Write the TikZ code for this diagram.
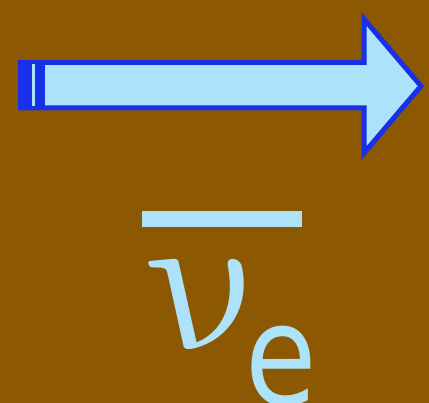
\documentclass[tikz,border=0pt]{standalone}
\usepackage{fontspec}
\setmainfont{DejaVu Sans}
\usepackage{xcolor}
\definecolor{nubrown}{RGB}{140, 89, 2}
\definecolor{nulight}{RGB}{172, 226, 250}
\definecolor{nublue}{RGB}{24, 48, 232}

\begin{document}
\begin{tikzpicture}[x=1pt, y=-1pt]
        \useasboundingbox (0,0) rectangle (429,403);
        \fill[nubrown] (0,0) rectangle (429,403);
        % arrow body
        \draw[line width=5pt, nublue, fill=nulight, line join=miter]
          (20.5,62.5) -- (364,62.5) -- (364,19) -- (421,86) -- (364,153) -- (364,108) -- (20.5,108) -- cycle;
        \fill[nublue] (18,60) rectangle (45,110);
        \fill[nulight] (32,64) rectangle (34.5,106);
        % antineutrino label
        \fill[nulight] (142,211) rectangle (302,227);
        \node[nulight, inner sep=0pt, anchor=base, xslant=-0.47, transform shape] (nu) at (231,350) {\scalebox{20.4}{$\nu$}};
        \node[font=\fontsize{140}{140}\selectfont, nulight, inner sep=0pt, anchor=base] (flav) at (281,405) {\scalebox{0.83}[1]{e}};
      \end{tikzpicture}
\end{document}
